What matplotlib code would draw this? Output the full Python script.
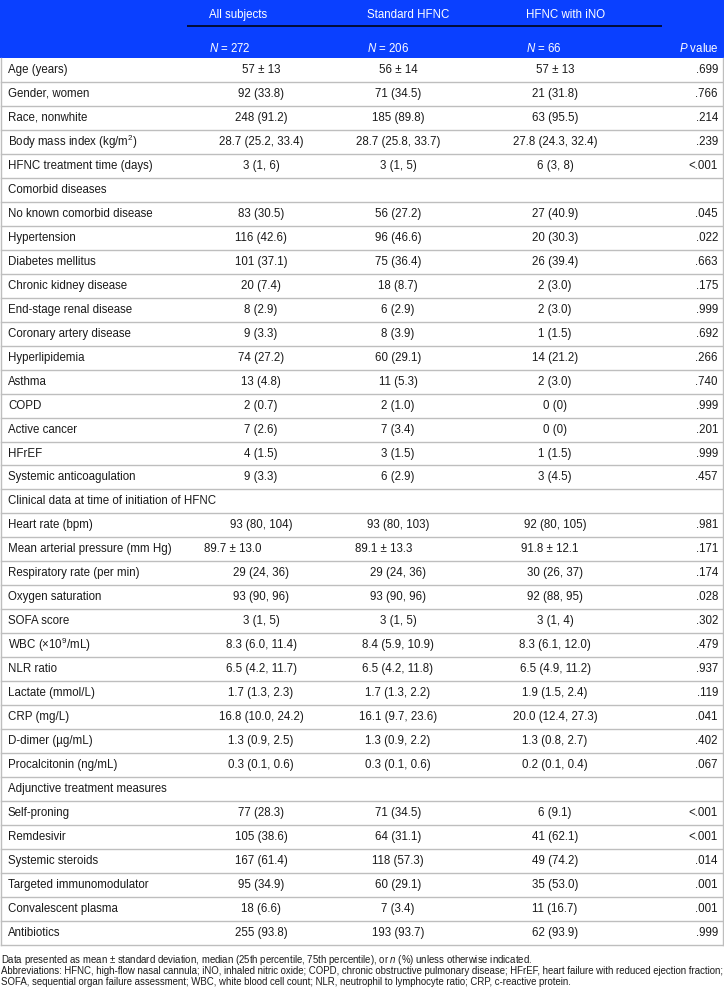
import matplotlib
matplotlib.use("Agg")
import matplotlib.pyplot as plt

plt.rcParams['font.family'] = ['Liberation Sans', 'DejaVu Sans']
plt.rcParams['mathtext.fontset'] = 'custom'
plt.rcParams['mathtext.rm'] = 'Liberation Sans'
plt.rcParams['mathtext.it'] = 'Liberation Sans:italic'
plt.rcParams['mathtext.bf'] = 'Liberation Sans:bold'

col_headers = ["All subjects", "Standard HFNC", "HFNC with iNO"]
n_labels = [r"$N$ = 272", r"$N$ = 206", r"$N$ = 66"]
p_header = r"$P$ value"

row_labels = [
    "Age (years)", "Gender, women", "Race, nonwhite", r"Body mass index (kg/m$^2$)",
    "HFNC treatment time (days)", "Comorbid diseases", "No known comorbid disease",
    "Hypertension", "Diabetes mellitus", "Chronic kidney disease", "End-stage renal disease",
    "Coronary artery disease", "Hyperlipidemia", "Asthma", "COPD", "Active cancer", "HFrEF",
    "Systemic anticoagulation", "Clinical data at time of initiation of HFNC",
    "Heart rate (bpm)", "Mean arterial pressure (mm Hg)", "Respiratory rate (per min)",
    "Oxygen saturation", "SOFA score", r"WBC ($\times$10$^9$/mL)", "NLR ratio",
    "Lactate (mmol/L)", "CRP (mg/L)", "D-dimer (µg/mL)", "Procalcitonin (ng/mL)",
    "Adjunctive treatment measures", "Self-proning", "Remdesivir", "Systemic steroids",
    "Targeted immunomodulator", "Convalescent plasma", "Antibiotics",
]
all_vals = [
    "57 ± 13", "92 (33.8)", "248 (91.2)", "28.7 (25.2, 33.4)", "3 (1, 6)", "",
    "83 (30.5)", "116 (42.6)", "101 (37.1)", "20 (7.4)", "8 (2.9)", "9 (3.3)", "74 (27.2)",
    "13 (4.8)", "2 (0.7)", "7 (2.6)", "4 (1.5)", "9 (3.3)", "",
    "93 (80, 104)", "89.7 ± 13.0", "29 (24, 36)", "93 (90, 96)", "3 (1, 5)",
    "8.3 (6.0, 11.4)", "6.5 (4.2, 11.7)", "1.7 (1.3, 2.3)", "16.8 (10.0, 24.2)",
    "1.3 (0.9, 2.5)", "0.3 (0.1, 0.6)", "",
    "77 (28.3)", "105 (38.6)", "167 (61.4)", "95 (34.9)", "18 (6.6)", "255 (93.8)",
]
std_vals = [
    "56 ± 14", "71 (34.5)", "185 (89.8)", "28.7 (25.8, 33.7)", "3 (1, 5)", "",
    "56 (27.2)", "96 (46.6)", "75 (36.4)", "18 (8.7)", "6 (2.9)", "8 (3.9)", "60 (29.1)",
    "11 (5.3)", "2 (1.0)", "7 (3.4)", "3 (1.5)", "6 (2.9)", "",
    "93 (80, 103)", "89.1 ± 13.3", "29 (24, 36)", "93 (90, 96)", "3 (1, 5)",
    "8.4 (5.9, 10.9)", "6.5 (4.2, 11.8)", "1.7 (1.3, 2.2)", "16.1 (9.7, 23.6)",
    "1.3 (0.9, 2.2)", "0.3 (0.1, 0.6)", "",
    "71 (34.5)", "64 (31.1)", "118 (57.3)", "60 (29.1)", "7 (3.4)", "193 (93.7)",
]
ino_vals = [
    "57 ± 13", "21 (31.8)", "63 (95.5)", "27.8 (24.3, 32.4)", "6 (3, 8)", "",
    "27 (40.9)", "20 (30.3)", "26 (39.4)", "2 (3.0)", "2 (3.0)", "1 (1.5)", "14 (21.2)",
    "2 (3.0)", "0 (0)", "0 (0)", "1 (1.5)", "3 (4.5)", "",
    "92 (80, 105)", "91.8 ± 12.1", "30 (26, 37)", "92 (88, 95)", "3 (1, 4)",
    "8.3 (6.1, 12.0)", "6.5 (4.9, 11.2)", "1.9 (1.5, 2.4)", "20.0 (12.4, 27.3)",
    "1.3 (0.8, 2.7)", "0.2 (0.1, 0.4)", "",
    "6 (9.1)", "41 (62.1)", "49 (74.2)", "35 (53.0)", "11 (16.7)", "62 (93.9)",
]
p_vals = [
    ".699", ".766", ".214", ".239", "<.001", "",
    ".045", ".022", ".663", ".175", ".999", ".692", ".266", ".740", ".999", ".201", ".999",
    ".457", "",
    ".981", ".171", ".174", ".028", ".302", ".479", ".937", ".119", ".041", ".402", ".067", "",
    "<.001", "<.001", ".014", ".001", ".001", ".999",
]
left_aligned_rows = ["Mean arterial pressure (mm Hg)"]

footnotes = [
    r"Data presented as mean ± standard deviation, median (25th percentile, 75th percentile), or $n$ (%) unless otherwise indicated.",
    "Abbreviations: HFNC, high-flow nasal cannula; iNO, inhaled nitric oxide; COPD, chronic obstructive pulmonary disease; HFrEF, heart failure with reduced ejection fraction;",
    "SOFA, sequential organ failure assessment; WBC, white blood cell count; NLR, neutrophil to lymphocyte ratio; CRP, c-reactive protein.",
]

W, H = 724, 989
fig = plt.figure(figsize=(W / 100, H / 100), dpi=100)
ax = fig.add_axes([0, 0, 1, 1])
ax.set_xlim(0, W)
ax.set_ylim(H, 0)
ax.axis('off')

blue = '#0A40FF'
grid = '#BEBEBE'
txt = '#1a1a1a'
fs = 8.3

header_h = 58
row_h = 23.97
table_top = header_h
n_rows = len(row_labels)
table_bot = table_top + n_rows * row_h

ax.add_patch(plt.Rectangle((0, 0), W, header_h, color=blue, zorder=0, lw=0))

hdr_x = [209, 367, 526]
for x, h, n in zip(hdr_x, col_headers, n_labels):
    ax.text(x, 15, h, color='white', fontsize=fs, ha='left', va='center')
    ax.text(x, 48, n, color='white', fontsize=fs, ha='left', va='center')
ax.plot([187, 662], [26, 26], color='black', lw=1.1, solid_capstyle='butt')
ax.text(719, 48, p_header, color='white', fontsize=fs, ha='right', va='center')

val_cx = [261, 398, 555]
left_x = [204, 355, 521]
for i, lab in enumerate(row_labels):
    yc = table_top + (i + 0.5) * row_h
    ax.text(8, yc, lab, color=txt, fontsize=fs, ha='left', va='center')
    vals = [all_vals[i], std_vals[i], ino_vals[i]]
    for j, v in enumerate(vals):
        if lab in left_aligned_rows:
            ax.text(left_x[j], yc, v, color=txt, fontsize=fs, ha='left', va='center')
        else:
            ax.text(val_cx[j], yc, v, color=txt, fontsize=fs, ha='center', va='center')
    ax.text(718, yc, p_vals[i], color=txt, fontsize=fs, ha='right', va='center')
    if i > 0:
        y = table_top + i * row_h
        ax.plot([1, W - 1], [y, y], color=grid, lw=1.0)

ax.plot([1, W - 1], [table_bot, table_bot], color=grid, lw=1.0)
ax.plot([1.2, 1.2], [table_top, table_bot], color=grid, lw=1.0)
ax.plot([W - 1.2, W - 1.2], [table_top, table_bot], color=grid, lw=1.0)

for k, f in enumerate(footnotes):
    ax.text(1, 960 + k * 11, f, color=txt, fontsize=6.9, ha='left', va='center')

fig.savefig('out.png', dpi=100)
